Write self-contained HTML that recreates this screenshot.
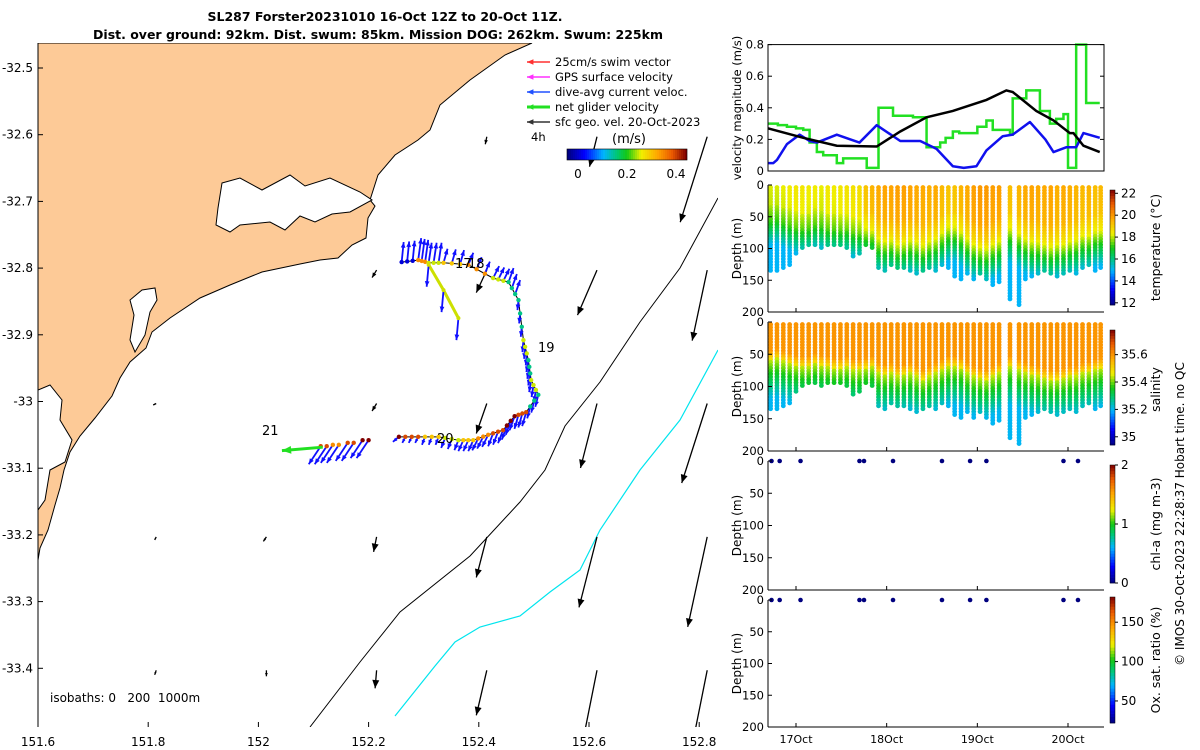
<!DOCTYPE html>
<html><head><meta charset="utf-8">
<style>
html,body{margin:0;padding:0;background:#fff;}
svg{display:block;font-family:"DejaVu Sans","Liberation Sans",sans-serif;}
</style></head>
<body>
<svg id="fig" width="1200" height="750" viewBox="0 0 1200 750" xmlns="http://www.w3.org/2000/svg">
<text x="385" y="21" font-size="12.5" font-weight="bold" text-anchor="middle">SL287 Forster20231010 16-Oct 12Z to 20-Oct 11Z.</text>
<text x="378" y="39" font-size="12.5" font-weight="bold" text-anchor="middle">Dist. over ground: 92km. Dist. swum: 85km. Mission DOG: 262km. Swum: 225km</text>
<g id="map"></g>
<g id="right"></g>
</svg>
<script>
// ---------- DATA ----------
const latTicks=[-32.5,-32.6,-32.7,-32.8,-32.9,-33,-33.1,-33.2,-33.3,-33.4];
const lonTicks=[151.6,151.8,152,152.2,152.4,152.6,152.8];
const trackLon=[152.26,152.29,152.309,152.336,152.381,152.426,152.454,152.472,152.481,152.49,152.495,152.508,152.486,152.465,152.444,152.417,152.39,152.363,152.327,152.29,152.255];
const trackLat=[-32.791,-32.788,-32.792,-32.792,-32.795,-32.815,-32.821,-32.848,-32.908,-32.938,-32.968,-32.99,-33.016,-33.022,-33.043,-33.05,-33.058,-33.058,-33.053,-33.053,-33.053];
const trackSpd=[0.05,0.4,0.3,0.35,0.4,0.3,0.2,0.2,0.3,0.2,0.3,0.2,0.45,0.5,0.45,0.4,0.35,0.3,0.35,0.45,0.5];
const curU=[0.02,0.03,0.03,0.04,0.05,0.06,0.05,-0.01,-0.01,-0.02,-0.02,-0.03,-0.04,-0.05,-0.05,-0.06,-0.05,-0.04,-0.03,-0.03,-0.06];
const curV=[0.2,0.22,0.2,0.14,0.12,0.12,0.14,-0.1,-0.12,-0.12,-0.12,-0.12,-0.14,-0.14,-0.13,-0.12,-0.11,-0.1,-0.08,-0.06,-0.05];
const branchLon=[152.309,152.336,152.363];
const branchLat=[-32.795,-32.833,-32.875];
const westLon=[152.2,152.173,152.146,152.124];
const westLat=[-33.058,-33.062,-33.065,-33.067];
const westSpd=[0.5,0.45,0.4,0.45];
const netU=[-0.24]; const netV=[-0.02];
const geoLat=[-32.6,-32.8,-33.0,-33.2,-33.4];
const geoU=[[0,0,0,0,-0.01,-0.05,-0.18],[0,0,0,-0.03,-0.07,-0.13,-0.1],[0,-0.02,0,-0.03,-0.07,-0.11,-0.17],[0,-0.01,-0.02,-0.02,-0.07,-0.12,-0.13],[0,-0.01,0,-0.01,-0.07,-0.1,-0.11]];
const geoV=[[0,0,0,0,-0.05,-0.2,-0.57],[0,0,0,-0.05,-0.15,-0.3,-0.47],[0,-0.01,0,-0.05,-0.2,-0.43,-0.53],[0,-0.02,-0.03,-0.1,-0.27,-0.47,-0.6],[0,-0.03,-0.04,-0.12,-0.3,-0.5,-0.55]];
// velocity panel
const blackDay=[16.69,17.08,17.45,17.89,18.15,18.44,18.73,19.10,19.32,19.39,19.65,19.84,20.02,20.06,20.17,20.35];
const blackVal=[0.27,0.21,0.16,0.155,0.25,0.34,0.38,0.45,0.51,0.5,0.38,0.32,0.24,0.24,0.16,0.12];
const blueDay=[16.69,16.75,16.79,16.90,17.04,17.15,17.23,17.45,17.60,17.70,17.89,18.15,18.37,18.55,18.73,18.85,18.99,19.10,19.28,19.39,19.58,19.75,19.84,19.98,20.09,20.17,20.35];
const blueVal=[0.05,0.05,0.07,0.17,0.23,0.19,0.18,0.23,0.20,0.18,0.29,0.19,0.19,0.14,0.03,0.02,0.03,0.13,0.22,0.23,0.31,0.2,0.12,0.15,0.15,0.24,0.21];
const greenDay=[16.69,16.80,16.90,17.0,17.08,17.15,17.23,17.30,17.45,17.52,17.70,17.78,17.87,17.91,18.07,18.29,18.44,18.59,18.65,18.73,18.80,18.92,19.00,19.10,19.17,19.36,19.39,19.54,19.69,19.80,19.87,19.95,20.00,20.06,20.09,20.17,20.20,20.35];
const greenVal=[0.30,0.29,0.28,0.27,0.26,0.18,0.12,0.10,0.05,0.08,0.08,0.02,0.02,0.40,0.35,0.34,0.15,0.18,0.21,0.25,0.24,0.24,0.28,0.32,0.26,0.23,0.46,0.51,0.38,0.30,0.33,0.36,0.02,0.02,0.8,0.8,0.43,0.43];
// profiles
const profDay=[16.72,16.79,16.86,16.93,17.0,17.07,17.14,17.21,17.28,17.35,17.42,17.49,17.56,17.63,17.70,17.77,17.84,17.91,17.98,18.05,18.12,18.19,18.26,18.33,18.40,18.47,18.54,18.61,18.68,18.75,18.82,18.89,18.96,19.03,19.10,19.17,19.24,19.36,19.46,19.53,19.60,19.67,19.74,19.81,19.88,19.95,20.02,20.09,20.16,20.23,20.30,20.36];
const profMax=[135,135,130,128,110,100,98,97,99,97,98,96,100,112,108,98,100,130,135,128,130,132,135,140,138,130,135,128,132,145,150,140,148,142,150,160,155,180,190,150,145,140,135,140,145,140,138,140,130,128,135,132];
const profSST=[18.2,18.2,18.3,18.4,18.5,18.5,18.4,18.4,18.3,18.5,18.4,18.5,18.6,18.6,18.7,19.2,19.5,19.7,19.8,19.8,19.9,19.9,19.8,19.7,19.7,19.6,19.7,19.4,19.2,19.2,19.5,19.7,19.9,20.0,20.0,19.9,19.9,19.3,19.5,19.7,19.8,19.7,19.7,19.8,19.6,19.7,19.6,19.5,19.4,19.5,19.3,19.4];
const profMLD=[60,58,62,65,68,70,70,65,68,70,72,72,70,75,75,72,70,80,82,80,85,82,80,85,90,85,80,75,70,70,72,80,85,88,90,85,80,70,75,80,82,85,88,90,90,88,85,85,80,78,75,72];
const sampleDay=[16.73,16.82,17.05,17.70,17.75,18.07,18.61,18.92,19.10,19.95,20.11];
const dayTicks=[17,18,19,20]; const dayLabels=["17Oct","18Oct","19Oct","20Oct"];

// ---------- HELPERS ----------
const NS="http://www.w3.org/2000/svg";
function mk(parent,tag,attrs,name,inter){const e=document.createElementNS(NS,tag);for(const k in attrs)e.setAttribute(k,attrs[k]);


parent.appendChild(e);return e;}
function txt(parent,x,y,s,opts,name){const e=mk(parent,'text',Object.assign({x:x,y:y,'font-size':12},opts||{}),name,false);e.textContent=s;return e;}
const cmStops=[[0,0,0,128],[0.14,0,0,255],[0.3,0,180,255],[0.42,0,200,110],[0.5,20,200,20],[0.62,240,240,0],[0.76,255,165,0],[0.88,235,90,0],[1,128,0,0]];
function jet(t){t=Math.max(0,Math.min(1,t));for(let i=1;i<cmStops.length;i++){if(t<=cmStops[i][0]){const a=cmStops[i-1],b=cmStops[i],f=(t-a[0])/(b[0]-a[0]);
return `rgb(${Math.round(a[1]+(b[1]-a[1])*f)},${Math.round(a[2]+(b[2]-a[2])*f)},${Math.round(a[3]+(b[3]-a[3])*f)})`;}}return 'rgb(128,0,0)';}
function arrow(parent,x1,y1,x2,y2,col,w,head,name){const g=mk(parent,'g',{},name,false);
mk(g,'line',{x1:x1,y1:y1,x2:x2,y2:y2,stroke:col,'stroke-width':w},name+'-shaft',false);
const a=Math.atan2(y2-y1,x2-x1),L=Math.hypot(x2-x1,y2-y1);const h=Math.min(head,L*0.6);
if(L<0.5)return g;
const p=[[x2,y2],[x2-h*Math.cos(a-0.4),y2-h*Math.sin(a-0.4)],[x2-h*Math.cos(a+0.4),y2-h*Math.sin(a+0.4)]];
mk(g,'polygon',{points:p.map(q=>q.join(',')).join(' '),fill:col},name+'-head',false);return g;}

// ---------- MAP ----------
const map=document.getElementById('map');
const X=lon=>38+(lon-151.6)*551, Y=lat=>68+(-32.5-lat)*667;
mk(map,'defs',{},'map-defs',false).innerHTML='<clipPath id="mc"><rect x="38" y="43" width="680" height="684"/></clipPath>';
const mg=mk(map,'g',{'clip-path':'url(#mc)'},'map-area',false);
mk(mg,'path',{d:'M38,43 L532,43 L505,55 L470,80 L440,105 L430,130 L418,140 L395,155 L378,175 L370,200 L375,206 L368,218 L366,238 L352,245 L338,258 L320,260 L300,264 L262,272 L230,285 L200,298 L170,318 L152,332 L146,348 L130,362 L120,378 L112,396 L95,418 L80,436 L70,452 L64,470 L60,488 L55,505 L48,530 L40,548 L38,560 Z',fill:'#fdca97',stroke:'#000','stroke-width':1},'land',false);
mk(mg,'path',{d:'M222,183 L240,178 L262,190 L290,175 L305,186 L330,178 L360,192 L372,200 L350,212 L332,214 L315,222 L300,216 L285,230 L270,222 L240,225 L230,232 L216,225 L218,208 Z',fill:'#fff',stroke:'#000','stroke-width':1},'estuary',false);
mk(mg,'path',{d:'M142,290 L155,288 L157,300 L150,312 L145,335 L135,352 L130,340 L134,315 L130,300 Z',fill:'#fff',stroke:'#000','stroke-width':1},'lake',false);
mk(mg,'path',{d:'M38,390 L50,385 L62,400 L60,420 L72,440 L65,462 L50,470 L45,500 L38,510 Z',fill:'#fff',stroke:'#000','stroke-width':1},'lagoon',false);
mk(mg,'polyline',{points:'310,727 360,662 400,612 470,556 520,502 545,470 565,426 600,382 640,322 680,268 718,198',fill:'none',stroke:'#000','stroke-width':1},'isobath-200',false);
mk(mg,'polyline',{points:'395,716 435,666 455,642 480,627 520,616 550,592 580,570 600,530 640,470 680,420 718,350',fill:'none',stroke:'#00e5ee','stroke-width':1.2},'isobath-1000',false);
geoLat.forEach((la,i)=>lonTicks.forEach((lo,j)=>{const x=X(lo)+8,y=Y(la)+2;
arrow(mg,x,y,x+geoU[i][j]*150,y-geoV[i][j]*150,'#000',1.3,9,'geo-velocity-arrow');}));
const tp=trackLon.map((lo,i)=>[X(lo),Y(trackLat[i])]);
mk(mg,'polyline',{points:tp.map(p=>p.join(',')).join(' '),fill:'none',stroke:'#000','stroke-width':1},'glider-track',false);
const bp=branchLon.map((lo,i)=>[X(lo),Y(branchLat[i])]);
mk(mg,'polyline',{points:bp.map(p=>p.join(',')).join(' '),fill:'none',stroke:'#cde000','stroke-width':3},'glider-track-branch',false);
tp.forEach((p,i)=>{const n=i<trackLon.length-1?3:1;for(let k=0;k<n;k++){const q=i<trackLon.length-1?tp[i+1]:p;const x=p[0]+(q[0]-p[0])*k/3,y=p[1]+(q[1]-p[1])*k/3;
arrow(mg,x,y,x+curU[i]*100,y-curV[i]*100,'#1010ff',1.8,6,'dive-avg-current-arrow');
mk(mg,'circle',{cx:x,cy:y,r:2.2,fill:jet(trackSpd[i]/0.5)},'track-point',false);}});
bp.forEach((p,i)=>{arrow(mg,p[0],p[1],p[0]-2,p[1]+22,'#1010ff',1.8,6,'dive-avg-current-arrow');mk(mg,'circle',{cx:p[0],cy:p[1],r:2,fill:'#cde000'},'track-point',false);});
westLon.forEach((lo,i)=>{const x=X(lo),y=Y(westLat[i]);for(let k=0;k<2;k++){const xx=x-k*6;
arrow(mg,xx,y,xx-12,y+18,'#1010ff',1.8,6,'dive-avg-current-arrow');
mk(mg,'circle',{cx:xx,cy:y,r:2.2,fill:jet(westSpd[i]/0.5)},'track-point',false);}});
arrow(mg,X(152.124)-4,Y(-33.067)+1,X(152.124)-4+netU[0]*170,Y(-33.067)+1-netV[0]*170,'#22e022',3,10,'net-glider-velocity-arrow');
[["17",455,268],["18",468,268],["19",538,352],["20",437,443],["21",262,435]].forEach(d=>txt(mg,d[1],d[2],d[0],{'font-size':13},'day-label'));
txt(mg,50,702,'isobaths: 0\u00a0\u00a0\u00a0200\u00a0\u00a01000m',{'font-size':12},'isobath-note');
const leg=[['#ff3030','25cm/s swim vector'],['#ff30ff','GPS surface velocity'],['#2050ff','dive-avg current veloc.'],['#22e022','net glider velocity'],['#333','sfc geo. vel. 20-Oct-2023']];
leg.forEach((l,i)=>{const y=62+i*15;arrow(map,550,y,527,y,l[0],i==3?3:1.5,7,'legend-arrow');txt(map,555,y+4,l[1],{'font-size':11.5},'legend-entry');});
txt(map,531,141,'4h',{'font-size':11.5},'legend-interval');
txt(map,612,143,'(m/s)',{'font-size':13},'colorbar-unit');
for(let i=0;i<60;i++)mk(map,'rect',{x:567+i*2,y:149,width:2.1,height:11,fill:jet(i/59)},'colorbar-cell',false);
mk(map,'rect',{x:567,y:149,width:120,height:11,fill:'none',stroke:'#000','stroke-width':0.6},'colorbar-frame',false);
[[0,578],[0.2,627],[0.4,676]].forEach(t=>txt(map,t[1],178,String(t[0]),{'font-size':12,'text-anchor':'middle'},'colorbar-tick'));
mk(map,'line',{x1:38,y1:43,x2:38,y2:727,stroke:'#000','stroke-width':1},'map-y-axis',false);
latTicks.forEach(l=>{const y=Y(l);mk(map,'line',{x1:38,y1:y,x2:43,y2:y,stroke:'#000'},'lat-tick',false);txt(map,33,y+4,String(l),{'font-size':12,'text-anchor':'end'},'lat-tick-label');});
lonTicks.forEach(l=>{const x=X(l);mk(map,'line',{x1:x,y1:727,x2:x,y2:722,stroke:'#000'},'lon-tick',false);txt(map,x,746,String(l),{'font-size':12,'text-anchor':'middle'},'lon-tick-label');});

// ---------- RIGHT PANELS ----------
const R=document.getElementById('right');
const DX=d=>796+(d-17)*90.67;
const PX0=768,PX1=1104;
function panelFrame(top,bot,name){mk(R,'rect',{x:PX0,y:top,width:PX1-PX0,height:bot-top,fill:'none',stroke:'#000','stroke-width':1},name,false);}
const VY=v=>171-v*158;
const vg=mk(R,'g',{},'velocity-panel',false);
[0,0.2,0.4,0.6,0.8].forEach(v=>{mk(vg,'line',{x1:PX0,y1:VY(v),x2:PX0+4,y2:VY(v),stroke:'#000'},'vel-tick',false);mk(vg,'line',{x1:PX1,y1:VY(v),x2:PX1-4,y2:VY(v),stroke:'#000'},'vel-tick',false);txt(vg,764,VY(v)+4,String(v),{'font-size':11.5,'text-anchor':'end'},'vel-tick-label');});
let gpts=[];greenDay.forEach((d,i)=>{if(i>0)gpts.push(DX(d)+','+VY(greenVal[i-1]));gpts.push(DX(d)+','+VY(greenVal[i]));});
mk(vg,'polyline',{points:gpts.join(' '),fill:'none',stroke:'#22e022','stroke-width':2.5},'net-velocity-line',false);
mk(vg,'polyline',{points:blueDay.map((d,i)=>DX(d)+','+VY(blueVal[i])).join(' '),fill:'none',stroke:'#1010ee','stroke-width':2.5,'stroke-linejoin':'round'},'current-velocity-line',false);
mk(vg,'polyline',{points:blackDay.map((d,i)=>DX(d)+','+VY(blackVal[i])).join(' '),fill:'none',stroke:'#000','stroke-width':2.5},'geo-velocity-line',false);
panelFrame(VY(0.8),VY(0),'velocity-frame');
txt(vg,0,0,'velocity magnitude (m/s)',{'font-size':11.5,'text-anchor':'middle',transform:'translate(741,108) rotate(-90)'},'vel-axis-title');
const panels=[{top:185,bot:312,name:'temperature',cb:[190,305],vmin:11.8,vmax:22.3,ticks:[12,14,16,18,20,22],label:'temperature (°C)'},
{top:322,bot:451,name:'salinity',cb:[330,445],vmin:34.94,vmax:35.78,ticks:[35,35.2,35.4,35.6],label:'salinity'},
{top:461,bot:590,name:'chl-a',cb:[465,583],vmin:0,vmax:2,ticks:[0,1,2],label:'chl-a (mg m-3)'},
{top:600,bot:727,name:'oxygen',cb:[597,723],vmin:22,vmax:182,ticks:[50,100,150],label:'Ox. sat. ratio (%)'}];
function tempAt(i,d){const s=profSST[i],m=profMLD[i];if(d<m-25)return s-d/m*0.3;if(d<m)return s-0.3-(d-m+25)*0.03;return Math.max(15.0,s-1.05-(d-m)*0.06);}
function salAt(i,d){const m=profMLD[i];if(d<m-15)return 35.6;if(d<m)return 35.6-(d-m+15)*0.008;return Math.max(35.2,35.44-(d-m)*0.004);}
panels.forEach((p,pi)=>{const g=mk(R,'g',{},p.name+'-panel',false);const DY=d=>p.top+d*(p.bot-p.top)/200;
const cg=mk(g,'g',{},p.name+'-points',false);
if(pi<2){profDay.forEach((day,i)=>{for(let d=4;d<=profMax[i];d+=4.5){const v=pi==0?tempAt(i,d):salAt(i,d);
mk(cg,'circle',{cx:DX(day),cy:DY(d),r:2.4,fill:jet((v-p.vmin)/(p.vmax-p.vmin))},p.name+'-sample',false);}});}
else{sampleDay.forEach(day=>mk(cg,'circle',{cx:DX(day),cy:DY(0),r:2.3,fill:'#00007f'},p.name+'-sample',false));}
[0,50,100,150,200].forEach(d=>{mk(g,'line',{x1:PX0,y1:DY(d),x2:PX0+4,y2:DY(d),stroke:'#000'},'depth-tick',false);txt(g,764,DY(d)+4,String(d),{'font-size':11.5,'text-anchor':'end'},'depth-tick-label');});
mk(g,'line',{x1:PX0,y1:p.top,x2:PX0,y2:p.bot,stroke:'#000'},p.name+'-y-axis',false);
mk(g,'line',{x1:PX0,y1:p.bot,x2:PX1,y2:p.bot,stroke:'#000'},p.name+'-x-axis',false);
dayTicks.forEach(d=>mk(g,'line',{x1:DX(d),y1:p.bot,x2:DX(d),y2:p.bot-4,stroke:'#000'},'day-tick',false));
txt(g,0,0,'Depth (m)',{'font-size':12,'text-anchor':'middle',transform:`translate(741,${(p.top+p.bot)/2}) rotate(-90)`},p.name+'-y-title');
const n=40,h=(p.cb[1]-p.cb[0])/n;for(let k=0;k<n;k++)mk(g,'rect',{x:1110,y:p.cb[1]-(k+1)*h,width:5,height:h+0.3,fill:jet((k+0.5)/n)},p.name+'-colorbar-cell',false);
mk(g,'rect',{x:1110,y:p.cb[0],width:5,height:p.cb[1]-p.cb[0],fill:'none',stroke:'#000','stroke-width':0.5},p.name+'-colorbar-frame',false);
p.ticks.forEach(t=>{const y=p.cb[1]-(t-p.vmin)/(p.vmax-p.vmin)*(p.cb[1]-p.cb[0]);mk(g,'line',{x1:1115,y1:y,x2:1118,y2:y,stroke:'#000'},'colorbar-tick',false);txt(g,1121,y+4,String(t),{'font-size':12},p.name+'-colorbar-label');});
txt(g,0,0,p.label,{'font-size':12.5,'text-anchor':'middle',transform:`translate(1160,${(p.cb[0]+p.cb[1])/2+(pi==1?2:0)}) rotate(-90)`},p.name+'-colorbar-title');
});
dayTicks.forEach((d,i)=>txt(R,DX(d),743,dayLabels[i],{'font-size':11,'text-anchor':'middle'},'day-tick-label'));
txt(R,0,0,'© IMOS 30-Oct-2023 22:28:37 Hobart time. no QC',{'font-size':12,'text-anchor':'middle',transform:'translate(1184,514) rotate(-90)'},'credit-text');
</script>
</body></html>
